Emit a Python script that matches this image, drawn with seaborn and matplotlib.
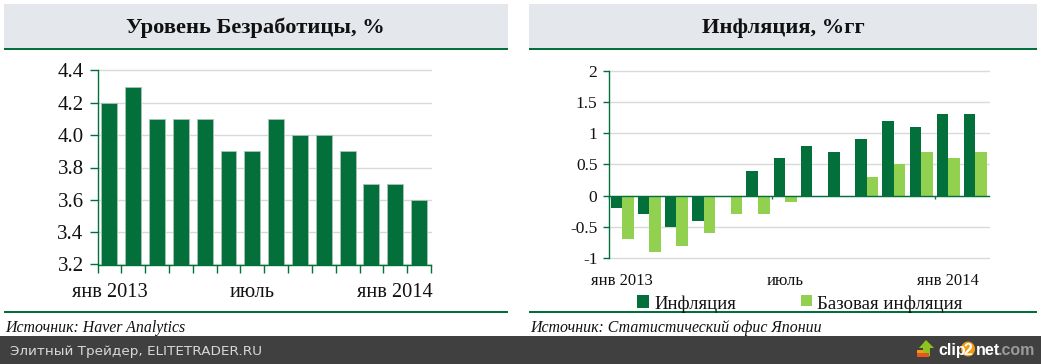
import matplotlib
matplotlib.use("Agg")
import matplotlib.pyplot as plt
from matplotlib.patches import Rectangle, Polygon, Ellipse
import pandas as pd
import seaborn as sns

months = ["янв 2013", "фев", "мар", "апр", "май", "июн", "июль", "авг", "сен", "окт", "ноя", "дек", "янв 2014", "фев 2014"]
unemployment = [4.2, 4.3, 4.1, 4.1, 4.1, 3.9, 3.9, 4.1, 4.0, 4.0, 3.9, 3.7, 3.7, 3.6]
inflation = [-0.2, -0.3, -0.5, -0.4, 0.0, 0.4, 0.6, 0.8, 0.7, 0.9, 1.2, 1.1, 1.3, 1.3]
core_inflation = [-0.7, -0.9, -0.8, -0.6, -0.3, -0.3, -0.1, 0.0, 0.0, 0.3, 0.5, 0.7, 0.6, 0.7]
left_yticks = [3.2, 3.4, 3.6, 3.8, 4.0, 4.2, 4.4]
right_yticks = [-1, -0.5, 0, 0.5, 1, 1.5, 2]
right_ylabels = ["-1", "-0.5", "0", "0.5", "1", "1.5", "2"]
shown = {"янв 2013": "янв 2013", "июль": "июль", "янв 2014": "янв 2014"}
s_inf, s_core = "Инфляция", "Базовая инфляция"

GREEN = "#03703c"
LIGHT = "#92d050"
GRID = "#d9d9d9"
HEAD = "#e4e7ec"
W, H = 1041, 364
SERIF = "Liberation Serif"

sns.set_theme(style="white", rc={"font.family": SERIF})
fig = plt.figure(figsize=(W / 100, H / 100), dpi=100)


def axpx(x0, x1, ytop, ybot):
    return fig.add_axes([x0 / W, 1 - ybot / H, (x1 - x0) / W, (ybot - ytop) / H])


def rect(x0, y0, x1, y1, color):
    fig.add_artist(Rectangle((x0 / W, 1 - y1 / H), (x1 - x0) / W, (y1 - y0) / H,
                             transform=fig.transFigure, fc=color, ec="none"))


def label(x, y, s, **kw):
    fig.text(x / W, 1 - y / H, s, va="center_baseline", **kw)


# panel frames
for x0, x1, cx, title, src in [
    (4, 508, 255.5, "Уровень Безработицы, %", "Источник: Haver Analytics"),
    (529, 1037, 783, "Инфляция, %гг", "Источник: Статистический офис Японии"),
]:
    rect(x0, 4, x1, 48, HEAD)
    rect(x0, 48, x1, 50, GREEN)
    rect(x0, 311, x1, 313, GREEN)
    label(cx, 25, title, ha="center", fontsize=16.2, fontweight="bold", color="#111111", family=SERIF)
    label(x0 + 1, 326, src, ha="left", fontsize=11.4, fontstyle="italic", color="#111111", family=SERIF)

# left chart
axl = axpx(97.5, 431, 70.5, 264.5)
dfl = pd.DataFrame({"month": months, "value": unemployment})
sns.barplot(data=dfl, x="month", y="value", color=GREEN, saturation=1, width=0.67,
            edgecolor="#a9c4b4", linewidth=0.6, ax=axl, zorder=3)
axl.set_xlim(-0.5, 13.5)
axl.set_ylim(3.2, 4.4)
axl.set_yticks(left_yticks)
axl.set_yticklabels([f"{v:.1f}" for v in left_yticks])
axl.tick_params(axis="y", length=6, width=1, color=GREEN, labelsize=15, pad=4, labelcolor="#111111", left=True)
axl.set_xticks(range(14))
axl.set_xticklabels([shown.get(m, "") for m in months])
axl.set_xticks([i - 0.5 for i in range(15)], minor=True)
axl.tick_params(axis="x", which="major", length=0, labelsize=14.7, pad=13.5, labelcolor="#111111")
axl.tick_params(axis="x", which="minor", length=6, width=1, color=GREEN, bottom=True)

# right chart
axr = axpx(608.5, 989, 70.5, 258)
dfr = pd.DataFrame({
    "month": months * 2,
    "value": inflation + core_inflation,
    "series": [s_inf] * 14 + [s_core] * 14,
})
sns.barplot(data=dfr, x="month", y="value", hue="series", hue_order=[s_inf, s_core],
            palette={s_inf: GREEN, s_core: LIGHT}, saturation=1, width=0.85, gap=0,
            edgecolor="none", linewidth=0, ax=axr, zorder=3, legend=False)
axr.set_xlim(-0.5, 13.5)
axr.set_ylim(-1, 2)
axr.set_yticks(right_yticks)
axr.set_yticklabels(right_ylabels)
axr.tick_params(axis="y", length=4, width=1, color=GREEN, labelsize=12.5, pad=4, labelcolor="#111111", left=True)
axr.spines["bottom"].set_position(("data", 0))
axr.set_xticks(range(14))
axr.set_xticklabels([shown.get(m, "") for m in months])
axr.set_xticks([-0.5, 5.5, 11.5], minor=True)
axr.tick_params(axis="x", which="major", length=0, labelsize=12, pad=56, labelcolor="#111111")
axr.tick_params(axis="x", which="minor", length=2.5, width=1, color=GREEN, bottom=True)

for ax in (axl, axr):
    ax.set_xlabel("")
    ax.set_ylabel("")
    sns.despine(ax=ax, top=True, right=True)
    for side in ("left", "bottom"):
        ax.spines[side].set_color(GREEN)
        ax.spines[side].set_linewidth(1)
        ax.spines[side].set_zorder(5)
    ax.yaxis.grid(True, color=GRID, linewidth=1)
    ax.set_axisbelow(True)
    for s in ax.yaxis.get_gridlines():
        s.set_zorder(1)
        s.set_clip_on(False)

# legend
rect(637, 295, 649, 308, GREEN)
label(654, 302, s_inf, ha="left", fontsize=13.5, color="#111111", family=SERIF)
rect(801, 295, 812, 306, LIGHT)
label(817, 302, s_core, ha="left", fontsize=13.6, color="#111111", family=SERIF)

# footer
rect(0, 336, W, H, "#404040")
label(10, 350, "Элитный Трейдер, ELITETRADER.RU", ha="left", fontsize=9.7, color="#d8d8d8",
      family="DejaVu Sans")


def poly(pts, color):
    fig.add_artist(Polygon([(x / W, 1 - y / H) for x, y in pts], closed=True,
                           transform=fig.transFigure, fc=color, ec="none"))


poly([(926, 340), (934, 348), (930, 348), (930, 356), (923, 356), (923, 348), (919, 348)], "#8fc31f")
rect(917, 350, 923, 353, "#f39c12")
rect(917, 353, 929, 357, "#e8541e")
fig.add_artist(Ellipse((968 / W, 1 - 349 / H), 14 / W, 15 / H, transform=fig.transFigure,
                       fc="#f39c12", ec="none"))
LOGO = dict(fontsize=11.5, fontweight="bold", family="Liberation Sans")
label(938, 349, "clip", ha="left", color="white", **LOGO)
label(968, 349, "2", ha="center", color="white", **LOGO)
label(976, 349, "net", ha="left", color="white", **LOGO)
label(998, 349, ".com", ha="left", color="#9a9a9a", **LOGO)

fig.savefig("out.png", dpi=100)
